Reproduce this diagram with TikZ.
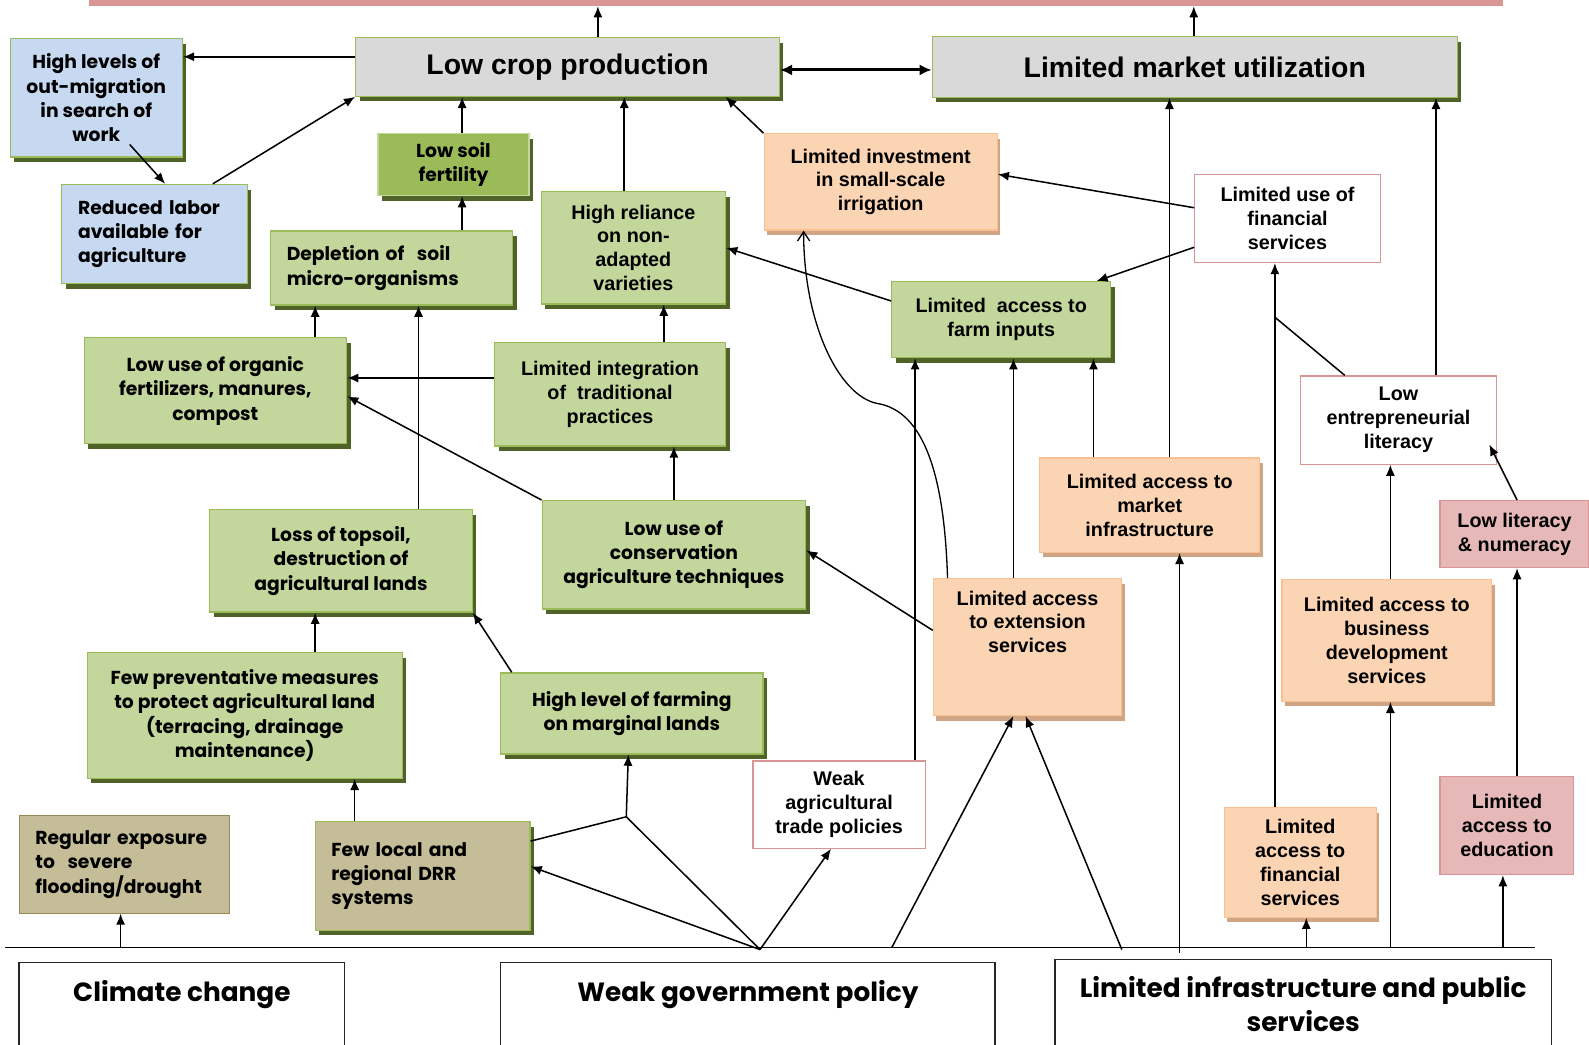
\documentclass[tikz,border=0pt]{standalone}
\usepackage{fontspec}
\setmainfont{Liberation Sans}
\newfontfamily\cgfont{Poppins}
\usetikzlibrary{arrows.meta,shadows}

\definecolor{boxgray}{HTML}{D9D9D9}
\definecolor{leaf}{HTML}{C3D69B}
\definecolor{leafdark}{HTML}{9BBB59}
\definecolor{moss}{HTML}{4F6228}
\definecolor{sky}{HTML}{C6D9F1}
\definecolor{peach}{HTML}{FBD4B4}
\definecolor{peachline}{HTML}{FAC090}
\definecolor{peachshade}{HTML}{CFA585}
\definecolor{rose}{HTML}{D99594}
\definecolor{rosefill}{HTML}{E6B9B8}
\definecolor{khaki}{HTML}{C4BD97}
\definecolor{khakiline}{HTML}{948A54}

\newcommand{\toptext}[3]{\parbox[c][#1][t]{#2}{\centering #3}}

\tikzset{
  diagbox/.style={rectangle, draw, line width=1.2pt, align=center, inner sep=4pt, font=\bfseries\fontsize{19.5}{23.5}\selectfont},
  cg/.style={font=\cgfont\bfseries\fontsize{18.5}{24}\selectfont},
  greenshadow/.style={drop shadow={shadow xshift=4pt, shadow yshift=-5pt, fill=moss, opacity=1}},
  peachshadow/.style={drop shadow={shadow xshift=3pt, shadow yshift=-5pt, fill=peachshade, opacity=1}},
  head/.style={diagbox, greenshadow, draw=leafdark, fill=boxgray, font=\bfseries\fontsize{28}{30}\selectfont},
  leafbox/.style={diagbox, greenshadow, draw=leafdark, fill=leaf},
  skybox/.style={diagbox, greenshadow, draw=leafdark, fill=sky},
  peachbox/.style={diagbox, peachshadow, draw=peachline, fill=peach},
  rosebox/.style={diagbox, draw=rose, fill=white},
  rosefillbox/.style={diagbox, draw=rose, fill=rosefill},
  root/.style={diagbox, draw=black!85, line width=1.5pt, fill=white, inner sep=0pt, font=\cgfont\bfseries\fontsize{26}{34}\selectfont},
  arr/.style={-{Latex[length=11pt,width=9pt]}, line width=1.5pt},
  link/.style={line width=1.5pt},
}

\begin{document}
\begin{tikzpicture}[x=1pt, y=-1pt]
    \useasboundingbox (0,0) rectangle (1568,1031);

    \node[fill=rose, minimum width=1395pt, minimum height=16pt, inner sep=0pt] (topbar) at (785.5,-2) {};
    \node[head, minimum width=418pt, minimum height=58pt] (crop) at (560,66) {Low crop production};
    \node[head, minimum width=518pt, minimum height=60pt] (market) at (1179,66) {Limited market utilization};

    \node[skybox, cg, minimum width=170pt, minimum height=117pt] (migr) at (95,96.5) {High levels of\\out-migration\\in search of\\work};
    \node[skybox, cg, minimum width=183pt, minimum height=98pt, text width=151pt, inner xsep=16pt, align=left] (labor) at (152.5,231) {Reduced labor\\available for\\agriculture};

    \node[leafbox, cg, fill=leafdark, draw=leaf, minimum width=149pt, minimum height=61pt] (soilfert) at (447.5,162.5) {Low soil\\fertility};
    \node[leafbox, cg, minimum width=239pt, minimum height=73pt, text width=207pt, inner xsep=16pt, align=left] (depl) at (386.5,264.5) {Depletion of\ \ soil\\micro-organisms};
    \node[leafbox, minimum width=182pt, minimum height=111pt] (reliance) at (625,244.5) {High reliance\\on non-\\adapted\\varieties};
    \node[leafbox, minimum width=216pt, minimum height=75pt] (farmin) at (988,315.5) {Limited\ \ access to\\farm inputs};
    \node[leafbox, cg, minimum width=259pt, minimum height=105pt] (organic) at (212.5,385.5) {Low use of organic\\fertilizers, manures,\\compost};
    \node[leafbox, minimum width=228pt, minimum height=102pt] (integ) at (602,389) {Limited integration\\of\ \ traditional\\practices};
    \node[leafbox, cg, minimum width=260pt, minimum height=107pt] (conserv) at (665,547.5) {Low use of\\conservation\\agriculture techniques};
    \node[leafbox, cg, minimum width=259pt, minimum height=101pt] (topsoil) at (336.5,553.5) {Loss of topsoil,\\destruction of\\agricultural lands};
    \node[leafbox, cg, minimum width=311pt, minimum height=124pt] (prevent) at (241.5,706) {Few preventative measures\\to protect agricultural land\\(terracing, drainage\\maintenance)};
    \node[leafbox, cg, minimum width=259pt, minimum height=80pt] (marginal) at (623.5,704) {High level of farming\\on marginal lands};

    \node[peachbox, minimum width=230pt, minimum height=95pt] (irrig) at (869,179.5) {Limited investment\\in small-scale\\irrigation};
    \node[peachbox, minimum width=217pt, minimum height=93pt] (mktinf) at (1134.5,498.5) {Limited access to\\market\\infrastructure};
    \node[peachbox, inner sep=0pt, minimum width=186pt, minimum height=135pt] (extens) at (1014,638.5) {\toptext{111pt}{180pt}{Limited access\\to extension\\services}};
    \node[peachbox, minimum width=207pt, minimum height=120pt] (bds) at (1368.5,632) {Limited access to\\business\\development\\services};
    \node[peachbox, minimum width=150pt, minimum height=108pt] (finacc) at (1283,851) {Limited\\access to\\financial\\services};

    \node[rosebox, minimum width=183pt, minimum height=87pt] (finuse) at (1270.5,215.5) {Limited use of\\financial\\services};
    \node[rosebox, minimum width=194pt, minimum height=87pt] (entre) at (1380,414.5) {Low\\entrepreneurial\\literacy};
    \node[rosebox, minimum width=170pt, minimum height=86pt] (trade) at (828,794) {Weak\\agricultural\\trade policies};
    \node[rosefillbox, minimum width=147pt, minimum height=66pt] (literacy) at (1494.5,527) {Low literacy\\\& numeracy};
    \node[rosefillbox, minimum width=132pt, minimum height=97pt] (educ) at (1487,814.5) {Limited\\access to\\education};

    \node[diagbox, cg, draw=khakiline, line width=1pt, fill=khaki, minimum width=207pt, minimum height=96pt, text width=175pt, inner xsep=16pt, align=left] (exposure) at (122.5,853) {Regular exposure\\to\ \ severe\\flooding/drought};
    \node[diagbox, cg, greenshadow, draw=leafdark, fill=khaki, minimum width=212pt, minimum height=107pt, text width=180pt, inner xsep=16pt, align=left] (drr) at (417,864.5) {Few local and\\regional DRR\\systems};

    \node[root, minimum width=321pt, minimum height=95pt] (climate) at (179.5,997.5) {\toptext{61pt}{315pt}{Climate change}};
    \node[root, minimum width=488pt, minimum height=95pt] (govt) at (738,997.5) {\toptext{61pt}{480pt}{Weak government policy}};
    \node[root, minimum width=490pt, minimum height=98pt] (infra) at (1286,996) {\toptext{66pt}{480pt}{Limited infrastructure and public\\services}};

    \coordinate (bl) at (5,935);
    \coordinate (br) at (1515,935);
    \coordinate (gp) at (750,937);
    \coordinate (jn) at (618,806);
    \coordinate (gx) at (880,935);
    \coordinate (gy) at (1107,937);
    \coordinate (bend) at (865,398);
    \coordinate (ej) at (1258,313);

    \draw[link] (bl) -- (br);

    \draw[arr] ([xshift=30pt]crop.north) -- ([xshift=30pt]crop.north |- topbar.south);
    \draw[arr] ([xshift=-1pt]market.north) -- ([xshift=-1pt]market.north |- topbar.south);
    \draw[{Latex[length=12pt,width=11pt]}-{Latex[length=12pt,width=11pt]}, line width=3pt] ([yshift=-3pt]crop.east) -- ([yshift=-3pt]crop.east -| market.west);
    \draw[arr] ([yshift=10pt]crop.west) -- ([yshift=10pt]crop.west -| migr.east);
    \draw[arr] ([xshift=33pt,yshift=13pt]migr.south) -- ([xshift=10.5pt]labor.north);
    \draw[arr] ([xshift=57.5pt]labor.north) -- (crop.south west);
    \draw[arr] ([xshift=8.5pt]soilfert.north) -- ([xshift=8.5pt]soilfert.north |- crop.south);
    \draw[arr] ([xshift=69.5pt]depl.north) -- ([xshift=8.5pt]soilfert.south);
    \draw[arr] ([xshift=-9pt]reliance.north) -- ([xshift=-9pt]reliance.north |- crop.south);
    \draw[arr] (irrig.north west) -- ([xshift=156pt]crop.south);
    \draw[arr] ([yshift=10.5pt]finuse.west) -- ([yshift=7.5pt]irrig.east);
    \draw[arr] ([yshift=-28.5pt]finuse.west) -- ([xshift=94pt]farmin.north);
    \draw[arr] ([yshift=18.5pt]farmin.west) -- (reliance.east);
    \draw[arr] ([xshift=98.5pt]organic.north) -- ([xshift=98.5pt]organic.north |- depl.south);
    \draw[arr] ([xshift=76.5pt]topsoil.north) -- ([xshift=76.5pt]topsoil.north |- depl.south);
    \draw[arr] ([yshift=16pt]integ.west) -- ([yshift=16pt]integ.west -| organic.east);
    \draw[arr] ([xshift=53pt]integ.north) -- ([xshift=53pt]integ.north |- reliance.south);
    \draw[arr] (conserv.north) -- (conserv.north |- integ.south);
    \draw[arr] (conserv.north west) -- ([yshift=-5.5pt]organic.east);
    \draw[arr] ([xshift=69.5pt]prevent.north) -- ([xshift=69.5pt]prevent.north |- topsoil.south);
    \draw[arr] ([xshift=-118.5pt]marginal.north) -- (topsoil.south east);
    \draw[arr] ([xshift=-3.5pt]exposure.south |- bl) -- ([xshift=-3.5pt]exposure.south);
    \draw[arr] ([xshift=-67pt]drr.north) -- ([xshift=-67pt]drr.north |- prevent.south);
    \draw[arr] (gp) -- ([yshift=9.5pt]drr.east);
    \draw[link] (gp) -- (jn) -- ([yshift=34.5pt]drr.east);
    \draw[arr] (jn) -- ([xshift=-3.5pt]marginal.south);
    \draw[arr] (gp) -- ([xshift=-8pt]trade.south);
    \draw[arr] (gx) -- ([xshift=-14pt]extens.south);
    \draw[arr] (gy) -- ([xshift=-2pt]extens.south);
    \draw[arr] ([xshift=75pt]trade.north) -- ([xshift=75pt]trade.north |- farmin.south);
    \draw[arr] ([xshift=-14pt]extens.north) -- ([xshift=-14pt]extens.north |- farmin.south);
    \draw[arr] ([yshift=16.5pt]extens.west) -- ([yshift=4.5pt]conserv.east);
    \draw[-{Straight Barb[length=9pt,width=12pt]}, line width=1.3pt] ([xshift=-79pt]extens.north) .. controls (932,470) and (912,405) .. (bend) .. controls (828,390) and (793,320) .. ([xshift=-76pt]irrig.south);
    \draw[arr] ([xshift=-55.5pt]mktinf.north) -- ([xshift=-55.5pt]mktinf.north |- farmin.south);
    \draw[arr] ([xshift=19.5pt]mktinf.north) -- ([xshift=19.5pt]mktinf.north |- market.south);
    \draw[arr] ([xshift=29.5pt,yshift=-5pt]mktinf.south |- br) -- ([xshift=29.5pt]mktinf.south);
    \draw[arr] ([xshift=-25pt]finacc.north) -- ([xshift=-25pt]finacc.north |- finuse.south);
    \draw[link] ([xshift=-53pt]entre.north) -- (ej);
    \draw[arr] ([xshift=37pt]entre.north) -- ([xshift=37pt]entre.north |- market.south);
    \draw[arr] ([xshift=2.5pt]literacy.north) -- ([xshift=-8pt,yshift=20pt]entre.south east);
    \draw[arr] ([xshift=3.5pt]bds.north) -- ([xshift=3.5pt]bds.north |- entre.south);
    \draw[arr] ([xshift=3.5pt]bds.south |- br) -- ([xshift=3.5pt]bds.south);
    \draw[arr] ([xshift=6pt]finacc.south |- br) -- ([xshift=6pt]finacc.south);
    \draw[arr] ([xshift=-4pt]educ.south |- br) -- ([xshift=-4pt]educ.south);
    \draw[arr] ([xshift=10pt]educ.north) -- ([xshift=10pt]educ.north |- literacy.south);
\end{tikzpicture}
\end{document}
